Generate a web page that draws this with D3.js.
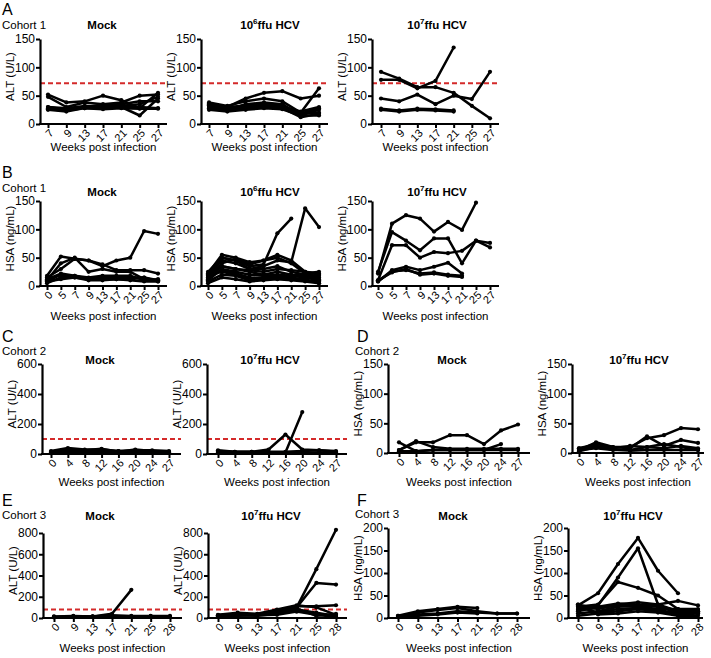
<!DOCTYPE html>
<html><head><meta charset="utf-8">
<script src="https://cdn.jsdelivr.net/npm/d3@7"></script>
<style>
body{margin:0;background:#fff;}
svg{display:block;font-family:"Liberation Sans",Arial,Helvetica,sans-serif;}
</style></head><body>
<svg id="chart" width="711" height="658"></svg>
<script>
// ---------- category (tick) labels ----------
const weeksA = ["7","9","13","17","21","25","27"];
const weeksB = ["0","5","7","9","13","17","21","25","27"];
const weeksCD = ["0","4","8","12","16","20","24","27"];
const weeksEF = ["0","9","13","17","21","25","28"];
const ticks150 = [0,50,100,150];
const ticks600 = [0,200,400,600];
const ticks800 = [0,200,400,600,800];
const ticks200 = [0,50,100,150,200];

// ---------- series values (one row per animal) ----------
const altC1Mock = [
  [52,38,40,50,42,28,55],[48,30,38,35,38,50,52],[30,25,30,32,30,15,45],
  [28,28,32,30,35,40,40],[25,22,28,28,30,30,28],[30,28,30,34,32,35,48],[26,24,28,26,28,27,27]];
const altC1Hcv6 = [
  [35,30,45,55,58,45,50],[38,32,40,45,40,20,63],[30,25,35,38,35,15,25],[32,28,30,33,30,20,20],
  [28,25,28,30,28,12,18],[33,30,32,35,32,18,28],[25,22,25,28,26,15,15],[36,28,33,32,30,22,30]];
const altC1Hcv7 = [
  [92,80,65,65,55,32,10],[78,78,63,76,135,null,null],[45,40,52,35,50,44,92],
  [25,22,25,24,22,null,null],[27,24,27,26,24,null,null]];
const hsaC1Mock = [
  [15,30,48,45,35,45,50,97,92],[18,52,48,45,38,28,28,28,22],[10,40,50,25,30,25,25,12,10],
  [8,20,15,12,15,15,15,15,8],[5,15,18,12,12,12,10,8,8],[12,22,18,15,18,18,18,10,12],[8,12,15,10,10,12,12,15,10]];
const hsaC1Hcv6 = [
  [20,50,45,35,38,93,119,null,null],[18,45,40,30,35,45,42,137,104],[22,55,50,42,45,55,45,25,20],
  [15,40,48,38,45,50,40,22,25],[25,50,45,30,30,35,25,20,15],[12,35,30,25,20,25,20,18,12],
  [10,30,25,20,18,20,18,15,10],[18,25,20,12,15,18,15,20,18],[8,20,18,10,12,15,12,10,8],
  [14,28,22,15,14,16,14,12,5],[5,15,12,8,10,12,10,8,5],[20,35,30,28,25,30,28,25,22]];
const hsaC1Hcv7 = [
  [22,110,125,119,96,113,99,147,null],[25,95,80,63,84,84,40,80,68],[10,72,72,50,60,58,62,80,76],
  [8,28,34,28,34,41,22,null,null],[8,26,28,22,24,20,18,null,null],[10,24,30,20,22,18,16,null,null]];
const altC2Mock = [
  [20,40,30,30,20,25,25,20],[10,30,25,35,15,30,20,15],[15,20,20,20,20,15,15,10],[5,10,15,15,10,10,10,10]];
const altC2Hcv7 = [
  [25,15,15,30,130,30,25,20],[15,10,10,10,10,280,null,null],[20,15,15,15,15,20,25,15],[10,10,10,10,10,10,10,10]];
const hsaC2Mock = [
  [5,18,18,30,30,15,38,48],[18,3,5,5,5,5,15,null],[5,20,10,7,7,7,7,7],[3,3,5,5,5,5,5,5]];
const hsaC2Hcv7 = [
  [8,15,10,10,25,30,42,40],[5,18,10,8,28,12,22,17],[8,12,8,12,10,15,10,5],[5,8,5,5,10,8,12,8],[3,10,6,4,5,5,5,5]];
const altC3Mock = [
  [10,15,15,40,265,null,null],[15,20,15,25,20,20,20],[10,10,10,15,15,15,10],[5,10,10,10,10,10,10]];
const altC3Hcv7 = [
  [20,30,30,50,100,460,830],[25,40,30,60,100,330,315],[20,30,35,70,110,110,120],[30,50,40,80,120,100,30],
  [10,30,20,40,80,50,20],[15,20,25,30,60,30,10],[20,25,30,50,90,20,40],[25,35,30,45,70,40,20]];
const hsaC3Mock = [
  [5,15,20,25,22,null,null],[3,12,18,22,15,10,10],[5,8,10,15,12,10,10],[2,5,8,12,10,null,null]];
const hsaC3Hcv7 = [
  [28,55,120,178,105,55,null],[20,28,90,155,30,15,10],[25,30,80,67,50,20,15],[30,20,30,35,30,38,28],
  [15,25,32,30,28,15,18],[10,15,25,28,25,12,15],[25,12,20,22,18,10,12],[5,10,15,20,15,8,10],
  [30,8,10,15,12,5,5],[18,22,28,25,20,20,20]];
const altLimits = {A:72, C:100, E:80};

// ---------- layout ----------
const T_MOCK = {t:"Mock"};
const T_6 = {t:"10", sup:"6", post:"ffu HCV"};
const T_7 = {t:"10", sup:"7", post:"ffu HCV"};
const ALT = "ALT (U/L)", HSA = "HSA (ng/mL)";
const panels = [
  {x0:40,w:127,yt:39,yb:124,max:150,ticks:ticks150,cats:weeksA,data:altC1Mock,title:T_MOCK,tx:102,ty:29,yl:ALT,thr:altLimits.A,pad:[8,9],xt:151},
  {x0:201,w:127,yt:39,yb:124,max:150,ticks:ticks150,cats:weeksA,data:altC1Hcv6,title:T_6,tx:270,ty:29,yl:ALT,thr:altLimits.A,pad:[8,9],xt:151},
  {x0:372,w:127,yt:39,yb:124,max:150,ticks:ticks150,cats:weeksA,data:altC1Hcv7,title:T_7,tx:437,ty:29,yl:ALT,thr:altLimits.A,pad:[9,9],xt:151},
  {x0:40,w:127,yt:201,yb:286,max:150,ticks:ticks150,cats:weeksB,data:hsaC1Mock,title:T_MOCK,tx:102,ty:196,yl:HSA,pad:[7,9],xt:320},
  {x0:201,w:127,yt:201,yb:286,max:150,ticks:ticks150,cats:weeksB,data:hsaC1Hcv6,title:T_6,tx:270,ty:196,yl:HSA,pad:[7,9],xt:320},
  {x0:372,w:127,yt:201,yb:286,max:150,ticks:ticks150,cats:weeksB,data:hsaC1Hcv7,title:T_7,tx:437,ty:196,yl:HSA,pad:[6,9],xt:320},
  {x0:42,w:139,yt:364,yb:454,max:600,ticks:ticks600,cats:weeksCD,data:altC2Mock,title:T_MOCK,tx:100,ty:364,yl:ALT,thr:altLimits.C,pad:[9,12],xt:486},
  {x0:207,w:140,yt:364,yb:454,max:600,ticks:ticks600,cats:weeksCD,data:altC2Hcv7,title:T_7,tx:270,ty:364,yl:ALT,thr:altLimits.C,pad:[11,11],xt:486},
  {x0:388,w:142,yt:364,yb:453,max:150,ticks:ticks150,cats:weeksCD,data:hsaC2Mock,title:T_MOCK,tx:452,ty:364,yl:HSA,pad:[11,12],xt:486},
  {x0:572,w:132,yt:364,yb:453,max:150,ticks:ticks150,cats:weeksCD,data:hsaC2Hcv7,title:T_7,tx:639,ty:364,yl:HSA,pad:[7,6],xt:486},
  {x0:43,w:139,yt:533,yb:618,max:800,ticks:ticks800,cats:weeksEF,data:altC3Mock,title:T_MOCK,tx:100,ty:520,yl:ALT,thr:altLimits.E,pad:[11,12],xt:652},
  {x0:208,w:139,yt:533,yb:618,max:800,ticks:ticks800,cats:weeksEF,data:altC3Hcv7,title:T_7,tx:271,ty:520,yl:ALT,thr:altLimits.E,pad:[10,11],xt:652},
  {x0:388,w:142,yt:528,yb:618,max:200,ticks:ticks200,cats:weeksEF,data:hsaC3Mock,title:T_MOCK,tx:453,ty:520,yl:HSA,pad:[10,13],xt:652},
  {x0:568,w:135,yt:528,yb:618,max:200,ticks:ticks200,cats:weeksEF,data:hsaC3Hcv7,title:T_7,tx:633,ty:520,yl:HSA,pad:[10,5],xt:652}
];
const letters = [
  {t:"A",x:2,y:15},{t:"B",x:2,y:178},{t:"C",x:2,y:342},{t:"D",x:357,y:342},{t:"E",x:2,y:506},{t:"F",x:357,y:506}];
const cohorts = [
  {t:"Cohort 1",x:2,y:29},{t:"Cohort 1",x:2,y:192},{t:"Cohort 2",x:2,y:355},{t:"Cohort 2",x:355,y:355},
  {t:"Cohort 3",x:2,y:519},{t:"Cohort 3",x:355,y:518}];

const svg = d3.select("#chart");
svg.append("rect").attr("width",711).attr("height",658).attr("fill","#fff");

letters.forEach(l=>svg.append("text").attr("x",l.x).attr("y",l.y).attr("font-size",16).text(l.t));
cohorts.forEach(c=>svg.append("text").attr("x",c.x).attr("y",c.y).attr("font-size",11.5).text(c.t));

function drawPanel(p){
  const g = svg.append("g");
  const x = d3.scalePoint().domain(p.cats).range([p.x0+p.pad[0], p.x0+p.w-p.pad[1]]);
  const y = d3.scaleLinear().domain([0,p.max]).range([p.yb,p.yt]);

  // title
  const t = g.append("text").attr("x",p.tx).attr("y",p.ty).attr("text-anchor","middle")
    .attr("font-weight","bold").attr("font-size",11.5);
  t.append("tspan").text(p.title.t);
  if(p.title.sup){
    t.append("tspan").attr("font-size",8).attr("dy",-5).text(p.title.sup);
    t.append("tspan").attr("dy",5).text(p.title.post);
  }

  // threshold
  if(p.thr!=null){
    g.append("line").attr("x1",p.x0).attr("x2",p.x0+p.w).attr("y1",y(p.thr)).attr("y2",y(p.thr))
      .attr("stroke","#d42a2a").attr("stroke-width",2).attr("stroke-dasharray","5,3");
  }

  // series
  const line = d3.line().defined(d=>d!=null).x((d,i)=>x(p.cats[i])).y(d=>y(d));
  p.data.forEach(s=>{
    g.append("path").attr("d",line(s)).attr("fill","none").attr("stroke","#000")
      .attr("stroke-width",2.5).attr("stroke-linejoin","round");
    g.selectAll(null).data(s.map((v,i)=>({v,i})).filter(d=>d.v!=null)).enter()
      .append("circle").attr("cx",d=>x(p.cats[d.i])).attr("cy",d=>y(d.v)).attr("r",2.1).attr("fill","#000");
  });

  // y axis
  const yg = g.append("g").attr("transform",`translate(${p.x0},0)`)
    .call(d3.axisLeft(y).tickValues(p.ticks).tickSize(4).tickSizeOuter(0).tickPadding(1));
  yg.attr("font-family",null).attr("font-size",12);
  yg.select(".domain").attr("stroke-width",2.2);
  yg.selectAll(".tick line").attr("stroke-width",2);
  yg.selectAll(".tick text").attr("fill","#000");

  // x axis
  const xg = g.append("g").attr("transform",`translate(0,${p.yb})`)
    .call(d3.axisBottom(x).tickSize(4).tickSizeOuter(0));
  xg.attr("font-family",null).attr("font-size",11);
  xg.select(".domain").remove();
  xg.append("line").attr("x1",p.x0-1).attr("x2",p.x0+p.w).attr("stroke","#000").attr("stroke-width",2.2);
  xg.selectAll(".tick line").attr("stroke-width",2);
  xg.selectAll(".tick text").attr("fill","#000").attr("x",0).attr("y",0).attr("dy","0.35em")
    .attr("text-anchor","end").attr("transform","translate(3,7) rotate(-45)");

  // axis titles
  g.append("text").attr("x",p.x0+p.w/2).attr("y",p.xt).attr("text-anchor","middle")
    .attr("font-size",11.5).text("Weeks post infection");
  g.append("text").attr("transform",`translate(${p.x0-26},${(p.yt+p.yb)/2-5}) rotate(-90)`)
    .attr("text-anchor","middle").attr("font-size",11.5).text(p.yl);
}
panels.forEach(drawPanel);
</script>
</body></html>
